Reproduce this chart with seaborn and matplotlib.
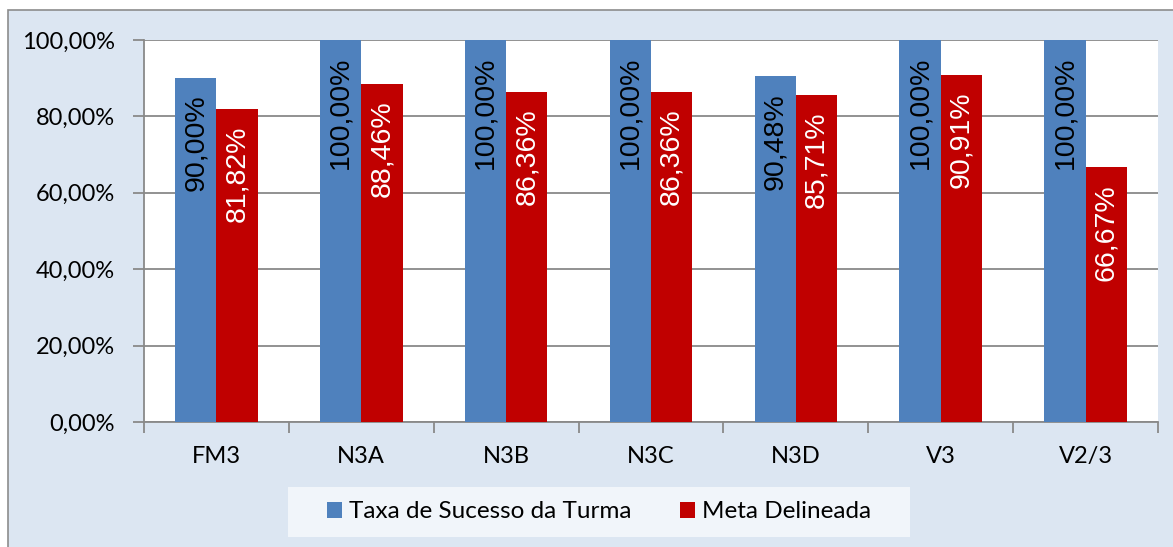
import pandas as pd
import matplotlib.pyplot as plt
import seaborn as sns
from matplotlib.patches import Rectangle
from matplotlib.ticker import FixedLocator

# data
turmas = ['FM3', 'N3A', 'N3B', 'N3C', 'N3D', 'V3', 'V2/3']
taxa_sucesso = [90.00, 100.00, 100.00, 100.00, 90.48, 100.00, 100.00]
meta_delineada = [81.82, 88.46, 86.36, 86.36, 85.71, 90.91, 66.67]
series_names = ['Taxa de Sucesso da Turma', 'Meta Delineada']
y_ticks = [0, 20, 40, 60, 80, 100]
y_tick_labels = ['0,00%', '20,00%', '40,00%', '60,00%', '80,00%', '100,00%']

colors = ['#4f81bd', '#c00000']
label_colors = ['black', 'white']
grid_gray = '#898989'

df = pd.DataFrame({
    'Turma': turmas * 2,
    'Serie': [series_names[0]] * len(turmas) + [series_names[1]] * len(turmas),
    'Valor': taxa_sucesso + meta_delineada,
})

sns.set_theme(style='white')
plt.rcParams['font.family'] = ['Lato', 'DejaVu Sans']
plt.rcParams['text.color'] = 'black'
plt.rcParams['xtick.labelcolor'] = 'black'
plt.rcParams['ytick.labelcolor'] = 'black'

W, H = 1173, 547
fig = plt.figure(figsize=(W / 100, H / 100), dpi=100, facecolor='white')

# light blue chart-area background with border (cropped at right/bottom)
fig.patches.append(Rectangle((8 / W, -0.05), 1.0, 1 - 10 / H + 0.05,
                             transform=fig.transFigure, facecolor='#dce6f2',
                             edgecolor='#8c8c8c', linewidth=1.2, zorder=-2))

ax = fig.add_axes([144 / W, 1 - 422 / H, (1158 - 144) / W, (422 - 40) / H])
ax.set_facecolor('white')

sns.barplot(data=df, x='Turma', y='Valor', hue='Serie', order=turmas,
            hue_order=series_names, palette=colors, width=0.57,
            saturation=1, ax=ax, zorder=3, linewidth=0)

ax.set_xlim(-0.5, len(turmas) - 0.5)
ax.set_ylim(0, 100)
ax.set_xlabel('')
ax.set_ylabel('')

ax.set_yticks(y_ticks)
ax.set_yticklabels(y_tick_labels, fontsize=17)
ax.yaxis.grid(True, color=grid_gray, linewidth=1.3, zorder=1)
ax.set_axisbelow(True)
ax.tick_params(axis='y', length=8, width=1.3, color=grid_gray, pad=13, direction='out', left=True)

ax.tick_params(axis='x', which='major', length=0, pad=17, labelsize=17)
ax.xaxis.set_minor_locator(FixedLocator([i - 0.5 for i in range(len(turmas) + 1)]))
ax.tick_params(axis='x', which='minor', length=8, width=1.3, color=grid_gray, direction='out', bottom=True)

for side in ['top', 'right']:
    ax.spines[side].set_visible(False)
for side in ['left', 'bottom']:
    ax.spines[side].set_color(grid_gray)
    ax.spines[side].set_linewidth(1.3)

# value labels inside the bars, rotated
for container, lc in zip(ax.containers, label_colors):
    for bar in container:
        v = bar.get_height()
        ax.annotate(f'{v:.2f}'.replace('.', ',') + '%',
                    (bar.get_x() + bar.get_width() / 2, v),
                    xytext=(0, -12), textcoords='offset points',
                    rotation=90, ha='center', va='top', color=lc,
                    fontsize=20.5, family=['Liberation Sans', 'DejaVu Sans'],
                    zorder=5)

handles, labels = ax.get_legend_handles_labels()
ax.get_legend().remove()

# legend box
fig.patches.append(Rectangle((288 / W, 1 - 537 / H), (910 - 288) / W, 50 / H,
                             transform=fig.transFigure, facecolor='#f1f5fa',
                             edgecolor='none', zorder=-1))
fig.legend(handles, labels, loc='center', bbox_to_anchor=(599 / W, 1 - 512 / H),
           ncol=2, frameon=False, fontsize=17.5, handlelength=0.62,
           handleheight=0.62, handletextpad=0.3, columnspacing=2.0)

fig.savefig('out.png', dpi=100, facecolor=fig.get_facecolor())
